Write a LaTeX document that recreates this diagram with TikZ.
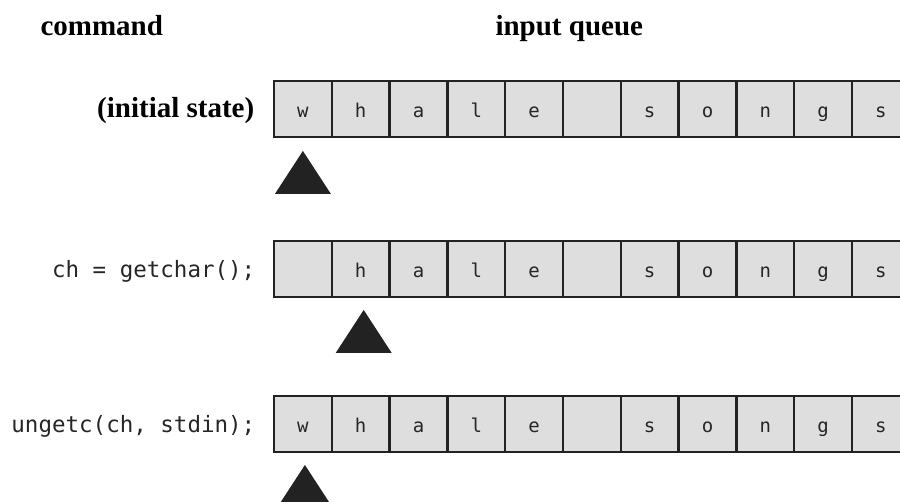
\documentclass[tikz,border=0pt]{standalone}
\usepackage{fontspec}
\setmainfont{Liberation Serif}
\newfontfamily\codefont{DejaVu Sans Mono}
\usetikzlibrary{positioning}
\definecolor{cCell}{HTML}{DEDEDE}
\definecolor{cLine}{HTML}{222222}
\definecolor{cText}{HTML}{262626}
\tikzset{
  cell/.style   ={draw=cLine, fill=cCell, line width=2.4pt, minimum width=57.8pt,
                  minimum height=55.5pt, inner sep=0pt, text height=16pt, text depth=0pt,
                  font=\codefont\fontsize{19}{19}\selectfont, text=cText},
  head/.style   ={anchor=base west, text=black, font=\bfseries\fontsize{29}{29}\selectfont},
  state/.style  ={anchor=base east, text=black, font=\bfseries\fontsize{29}{29}\selectfont},
  cmd/.style    ={anchor=base east, text=cText, font=\codefont\fontsize{22.5}{22.5}\selectfont},
  pointer/.style={fill=cLine},
}
\begin{document}
\begin{tikzpicture}[x=1pt, y=-1pt]
  \useasboundingbox (0,0) rectangle (900,501);
  \node[head] (hcmd) at (37,35) {command};
  \node[head] (hqueue) at (492,35) {input queue};
  % three snapshots of the queue
  \foreach \r/\y/\first in {1/109/w, 2/269/{}, 3/424/w}{
    \foreach \ch [count=\i from 0] in {\first,h,a,l,e,{},s,o,n,g,s}
      \node[cell] (q\r-\i) at ({302.9+57.8*\i},\y) {\ch};
  }
  \node[state] (cmd1) at ([xshift=-15pt]q1-0.base west) {(initial state)};
  \node[cmd]   (cmd2) at ([xshift=-14pt]q2-0.base west) {ch = getchar();};
  \node[cmd]   (cmd3) at ([xshift=-14pt]q3-0.base west) {ungetc(ch, stdin);};
  % read position
  \fill[pointer] ([yshift=-13pt]q1-0.south) -- ++(28,43) -- ++(-56,0) -- cycle;
  \fill[pointer] ([xshift=3pt,yshift=-12pt]q2-1.south) -- ++(28,43) -- ++(-56,0) -- cycle;
  \fill[pointer] ([xshift=2pt,yshift=-12pt]q3-0.south) -- ++(28,43) -- ++(-56,0) -- cycle;
\end{tikzpicture}
\end{document}
